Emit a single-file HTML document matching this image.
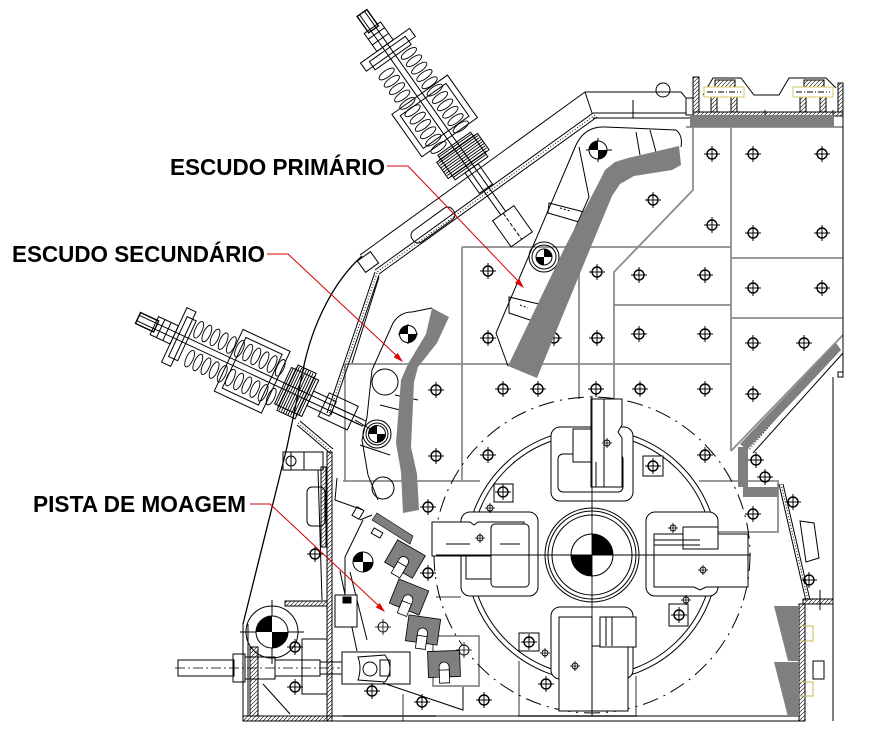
<!DOCTYPE html>
<html><head><meta charset="utf-8">
<style>html,body{margin:0;padding:0;background:#fff}svg{display:block}</style>
</head><body>
<svg xmlns="http://www.w3.org/2000/svg" width="872" height="747" viewBox="0 0 872 747">
<defs>
<pattern id="h" patternUnits="userSpaceOnUse" width="4" height="4"><path d="M0,4L4,0M-1,1L1,-1M3,5L5,3" stroke="#000" stroke-width="0.6"/></pattern>
<g id="b"><circle r="5" fill="none" stroke="#000" stroke-width="1.4"/><path d="M-8,0H8M0,-8V8" stroke="#000" stroke-width="1"/></g>
<g id="o"><circle r="5" fill="#fff" stroke="#000" stroke-width="0.9"/><path d="M-8,0H8M0,-8V8" stroke="#000" stroke-width="0.8"/></g>
<g id="s"><circle r="3" fill="none" stroke="#000" stroke-width="0.9"/><path d="M-5,0H5M0,-5V5" stroke="#000" stroke-width="0.8"/></g>
<g id="cg"><circle r="10" fill="#fff" stroke="#000" stroke-width="1" vector-effect="non-scaling-stroke"/><path d="M0,0L-10,0A10,10 0 0 1 0,-10Z M0,0L10,0A10,10 0 0 1 0,10Z" fill="#000"/></g>
<g id="cg2"><circle r="10" fill="#fff" stroke="#000" stroke-width="1" vector-effect="non-scaling-stroke"/><path d="M0,0L0,-10A10,10 0 0 1 10,0Z M0,0L0,10A10,10 0 0 1 -10,0Z" fill="#000"/></g>
<g id="coil" fill="none" stroke="#000" stroke-width="0.9">
<ellipse cx="60" cy="-15" rx="3.5" ry="9"/><ellipse cx="69" cy="-15" rx="3.5" ry="9"/><ellipse cx="78" cy="-15" rx="3.5" ry="9"/><ellipse cx="87" cy="-15" rx="3.5" ry="9"/><ellipse cx="96" cy="-15" rx="3.5" ry="9"/><ellipse cx="105" cy="-15" rx="3.5" ry="9"/><ellipse cx="114" cy="-15" rx="3.5" ry="9"/><ellipse cx="123" cy="-15" rx="3.5" ry="9"/><ellipse cx="132" cy="-15" rx="3.5" ry="9"/><ellipse cx="141" cy="-15" rx="3.5" ry="9"/><ellipse cx="150" cy="-15" rx="3.5" ry="9"/>
<ellipse cx="64" cy="15" rx="3.5" ry="9"/><ellipse cx="73" cy="15" rx="3.5" ry="9"/><ellipse cx="82" cy="15" rx="3.5" ry="9"/><ellipse cx="91" cy="15" rx="3.5" ry="9"/><ellipse cx="100" cy="15" rx="3.5" ry="9"/><ellipse cx="109" cy="15" rx="3.5" ry="9"/><ellipse cx="118" cy="15" rx="3.5" ry="9"/><ellipse cx="127" cy="15" rx="3.5" ry="9"/><ellipse cx="136" cy="15" rx="3.5" ry="9"/><ellipse cx="145" cy="15" rx="3.5" ry="9"/><ellipse cx="154" cy="15" rx="3.5" ry="9"/>
</g>
<g id="spr" fill="none" stroke="#000" stroke-width="1">
<path d="M0,-3H245M0,3H245"/>
<rect x="0" y="-6" width="20" height="12" stroke-width="1.4"/>
<rect x="18" y="-10" width="22" height="20"/><path d="M25,-10V10M32,-10V10"/>
<rect x="40" y="-30" width="10" height="60"/><rect x="44" y="-22" width="10" height="44"/>
<use href="#coil"/>
<rect x="100" y="-34" width="52" height="68"/><rect x="106" y="-28" width="40" height="56"/>
<rect x="160" y="-20" width="30" height="40"/><rect x="165" y="-25" width="20" height="50"/>
<path d="M162,-20V20M164.5,-22V22M167,-24V24M169.5,-24V24M172,-25V25M174.5,-25V25M177,-25V25M179.5,-24V24M182,-24V24M184.5,-22V22M187,-20V20" stroke-width="0.9"/>
<rect x="190" y="-8" width="25" height="16"/>
</g>
<g id="tooth"><path d="M-16,-13H16V13H5V3A5,5 0 0 0 -5,3V13H-16Z" fill="#7f7f7f" stroke="#000" stroke-width="0.8"/><rect x="-5" y="6" width="10" height="13" fill="#fff" stroke="#000" stroke-width="0.8"/></g>
</defs>

<!-- gray grid plates -->
<g fill="none" stroke="#8c8c8c" stroke-width="1.8">
<path d="M693,127V190L614,272V399"/>
<path d="M731,127V451"/>
<path d="M731,258H843M731,318H843M686,127H843"/>
<path d="M462,247H731M462,247V481M579,247V399M614,305H731M345,364H731M345,364V482M343,481H480"/>
<path d="M436,597H461"/>
<rect x="433" y="636" width="46" height="50"/>
<path d="M403,694V721M343,716H436M519,661V716H636V676"/>
<path d="M699,481H778V532H718"/>
<path d="M843,335L731,451"/>
</g>

<!-- rotor rings -->
<g fill="none" stroke="#000">
<circle cx="592" cy="555" r="158" stroke-width="1" stroke-dasharray="16 6 2 6"/>
<circle cx="592" cy="555" r="126" stroke-width="1"/>
<circle cx="592" cy="555" r="121" stroke-width="1"/>
</g>

<!-- bolts -->
<g>
<use href="#b" x="712" y="154"/><use href="#b" x="753" y="154"/><use href="#b" x="822" y="154"/>
<use href="#b" x="653" y="200"/><use href="#b" x="712" y="225"/><use href="#b" x="753" y="233"/><use href="#b" x="822" y="233"/>
<use href="#b" x="488" y="271"/><use href="#b" x="597" y="272"/><use href="#b" x="639" y="275"/><use href="#b" x="705" y="275"/><use href="#b" x="753" y="288"/><use href="#b" x="822" y="288"/>
<use href="#b" x="488" y="338"/><use href="#b" x="554" y="338"/><use href="#b" x="597" y="338"/><use href="#b" x="639" y="334"/><use href="#b" x="705" y="334"/><use href="#b" x="753" y="343"/><use href="#b" x="804" y="343"/>
<use href="#b" x="436" y="390"/><use href="#b" x="503" y="389"/><use href="#b" x="538" y="389"/><use href="#b" x="596" y="389"/><use href="#b" x="640" y="389"/><use href="#b" x="705" y="389"/><use href="#b" x="753" y="394"/>
<use href="#b" x="436" y="456"/><use href="#b" x="488" y="455"/><use href="#b" x="705" y="455"/><use href="#b" x="753" y="514"/>
<use href="#b" x="484" y="700"/><use href="#b" x="546" y="684"/><use href="#b" x="611" y="684"/>
<use href="#b" x="428" y="507"/><use href="#b" x="428" y="573"/><use href="#b" x="372" y="691"/><use href="#b" x="422" y="702"/>
<use href="#o" x="464" y="650"/><use href="#o" x="383" y="627"/><use href="#b" x="315" y="554"/>
</g>

<!-- hammers -->
<g fill="#fff" stroke="#000" stroke-width="1">
<rect x="551" y="427" width="82" height="74" rx="9"/>
<rect x="558" y="454" width="65" height="38" rx="5"/>
<path d="M591,399H622V425L618,432L622,438V487H591Z"/>
<rect x="573" y="429" width="18" height="33"/>
<path d="M604,399V487M596,462V487" fill="none"/>
<rect x="646" y="512" width="72" height="84" rx="9"/>
<path d="M654,534H748V587H706L700,590L694,587H654Z"/>
<rect x="683" y="527" width="35" height="22"/>
<path d="M654,545H700M654,540H700" fill="none"/>
<rect x="461" y="512" width="77" height="84" rx="9"/>
<path d="M432,522H470L474,525L478,522H524V556H432Z"/>
<path d="M466,556H499V579H466Z"/>
<rect x="491" y="524" width="38" height="63" rx="4"/>
<path d="M446,544H470M500,544H520" fill="none"/>
<rect x="551" y="607" width="82" height="72" rx="9"/>
<path d="M559,617H592V711H559Z"/>
<path d="M592,646H628V711H592Z"/>
<rect x="600" y="617" width="36" height="30"/>
<path d="M606,617V646M612,617V646" fill="none"/>
<rect x="494" y="484" width="19" height="18"/><rect x="643" y="456" width="20" height="20"/><rect x="669" y="604" width="19" height="22"/><rect x="519" y="633" width="20" height="18"/>
</g>
<g>
<use href="#b" x="503" y="492"/><use href="#b" x="653" y="466"/><use href="#b" x="679" y="615"/><use href="#b" x="529" y="642"/>
<use href="#s" x="607" y="443"/><use href="#s" x="480" y="538"/><use href="#s" x="673" y="528"/><use href="#s" x="703" y="570"/><use href="#s" x="575" y="666"/><use href="#s" x="490" y="508"/><use href="#s" x="686" y="600"/><use href="#s" x="545" y="653"/>
</g>
<!-- rotor center -->
<g fill="none" stroke="#000" stroke-width="1">
<circle cx="592" cy="555" r="47" fill="#fff"/><circle cx="592" cy="555" r="44"/><circle cx="592" cy="555" r="40"/>
<path d="M436,555H751M592,396V716" stroke-width="0.9"/>
</g>
<path d="M592,555V534A21,21 0 0 1 613,555Z M592,555V576A21,21 0 0 1 571,555Z" fill="#000"/>
<circle cx="592" cy="555" r="21" fill="none" stroke="#000"/>

<!-- top housing -->
<g fill="none" stroke="#000" stroke-width="1">
<path d="M585,92H681L686,98V115"/>
<path d="M585,92L360,255"/>
<path d="M585,92L592,113"/>
<path d="M593,113H686M593,118H690"/>
<path d="M593,113L375,270M597,117L379,274"/>
<path d="M595,115L377,272" stroke-dasharray="1 2"/>
<rect x="686" y="98" width="7" height="17"/>
<rect x="693" y="77" width="6" height="35" fill="url(#h)"/>
<rect x="838" y="83" width="5" height="29" fill="url(#h)"/>
<rect x="693" y="112" width="150" height="4" fill="url(#h)"/>
<path d="M703,95L713,78H741L754,95H779L789,78H826L836,88"/>
<rect x="715" y="80" width="20" height="7" fill="url(#h)"/>
<rect x="804" y="80" width="20" height="7" fill="url(#h)"/>
<rect x="711" y="97" width="6" height="15" fill="url(#h)"/><rect x="731" y="97" width="6" height="15" fill="url(#h)"/>
<rect x="800" y="97" width="6" height="15" fill="url(#h)"/><rect x="820" y="97" width="6" height="15" fill="url(#h)"/>
<rect x="704" y="87" width="40" height="10" stroke="#d8c860" fill="#fff"/>
<rect x="793" y="87" width="40" height="10" stroke="#d8c860" fill="#fff"/>
<path d="M707,92H741M796,92H830" stroke-dasharray="6 2 1 2"/>
<circle cx="663" cy="90" r="7"/>
<path d="M633,100V118M765,110V127M833,110V127"/>
<path d="M843,83V377M833,377V721"/>
<rect x="838" y="372" width="5" height="5"/>
<rect x="408" y="218" width="50" height="14" rx="6" transform="rotate(-36 433 225)"/>
<rect x="360" y="255" width="16" height="14" transform="rotate(-36 368 262)"/>
</g>

<!-- springs -->
<use href="#spr" transform="translate(362,13) rotate(54.8)"/>
<g fill="none" stroke="#000" transform="translate(362,13) rotate(54.8)"><rect x="245" y="-13" width="32" height="26"/><path d="M245,0H277" stroke-dasharray="4 2"/></g>
<use href="#spr" transform="translate(138,318) rotate(25)"/>
<g fill="none" stroke="#000" transform="translate(138,318) rotate(25)"><rect x="205" y="-13" width="32" height="26"/><path d="M215,-3H250M215,3H250"/></g>

<!-- outer casing left -->
<g fill="none" stroke="#000" stroke-width="1">
<path d="M362,256C333,282 312,325 303,370L287,447L243,624" stroke-width="1.3"/>
<path d="M375,272L327,413M379,275L331,415"/>
<path d="M377,273L329,414" stroke-dasharray="1 2"/>
<path d="M379,277L352,363"/>
<path d="M297,425L330,453M300,421L333,449"/>
<path d="M298,423L331,451" stroke-dasharray="1 2"/>
<rect x="327" y="452" width="5" height="269" fill="url(#h)"/>
<rect x="321" y="467" width="5" height="80" fill="url(#h)"/>
<rect x="283" y="452" width="40" height="18"/><circle cx="291" cy="461" r="5"/>
<path d="M291,452V470M304,452V470"/>
<rect x="307" y="487" width="18" height="39" rx="5"/>
<path d="M318,470L322,600"/>
<rect x="285" y="601" width="42" height="5" fill="url(#h)"/>
<path d="M243,624V721M248,624V716"/>
<path d="M243,721H800M243,716H800"/>
<rect x="243" y="716" width="89" height="5" fill="url(#h)"/>
<circle cx="272" cy="632" r="26"/>
<path d="M240,632H304M272,600V664"/>
<rect x="302" y="639" width="25" height="55"/>
<path d="M263,684L290,714"/>
<rect x="250" y="647" width="8" height="69" fill="url(#h)"/>
<rect x="178" y="660" width="56" height="16"/>
<rect x="233" y="654" width="12" height="28"/>
<rect x="245" y="657" width="30" height="22"/>
<rect x="275" y="660" width="45" height="16"/>
<rect x="320" y="662" width="22" height="12"/>
<path d="M175,668H340" stroke-dasharray="10 3 2 3" stroke-width="0.8"/>
<rect x="342" y="652" width="68" height="32"/>
<path d="M358,657Q362,668 358,680L385,682Q395,669 385,655Z" fill="#fff"/>
<circle cx="370" cy="669" r="7"/>
<rect x="380" y="660" width="10" height="16"/>
</g>
<use href="#cg" transform="translate(272,632) scale(1.6)"/>
<use href="#b" x="295" y="647"/><use href="#b" x="295" y="687"/>

<!-- primary shield holder -->
<g fill="none" stroke="#000" stroke-width="1">
<path d="M576,145Q585,126 605,127L676,130Q683,135 681,147"/>
<path d="M576,145L496,333L508,366"/>
<path d="M579,147L589,197L570,240"/>
<path d="M636,132L640,155M650,130L656,152"/>
<path d="M549,203L584,212L579,222L548,213Z"/>
<path d="M509,297L543,305L536,322L509,313Z"/>
<path d="M560,208L570,211M520,305L528,308" stroke-dasharray="2 2"/>
<circle cx="544" cy="257" r="15"/><circle cx="544" cy="257" r="12"/>
<path d="M586,150H612M598,138V162"/>
</g>
<use href="#cg" transform="translate(598,150) scale(0.9)"/>
<use href="#cg2" transform="translate(544,257) scale(0.8)"/>

<!-- secondary shield holder -->
<g fill="none" stroke="#000" stroke-width="1">
<path d="M393,323Q400,312 412,312L432,308"/>
<path d="M393,323L372,370L367,417L362,440L368,475L378,500"/>
<circle cx="385" cy="382" r="13"/>
<circle cx="377" cy="434" r="14"/><circle cx="377" cy="434" r="11"/>
<circle cx="383" cy="488" r="11"/>
<path d="M395,395L418,400M380,405L400,410M355,420L372,430M360,445L390,455"/>
<path d="M398,334H418M408,324V344"/>
</g>
<use href="#cg" transform="translate(408,334) scale(0.85)"/>
<use href="#cg" transform="translate(377,434) scale(0.85)"/>

<!-- pista holder -->
<g fill="none" stroke="#000" stroke-width="1">
<path d="M337,478L335,500L363,510"/>
<path d="M363,520L345,557V600"/>
<path d="M340,571L357,651M350,572L367,640"/>
<rect x="335" y="595" width="22" height="32" fill="#fff"/>
<rect x="343" y="597" width="8" height="6" fill="#000"/>
<path d="M383,683L463,710V687"/>
<path d="M360,520L372,515"/>
<rect x="354" y="508" width="8" height="10" transform="rotate(30 358 513)"/>
<rect x="372" y="530" width="10" height="6" transform="rotate(30 377 533)"/>
</g>
<circle cx="363" cy="562" r="10" fill="#ffffd0"/>
<use href="#cg" transform="translate(363,562) scale(1)"/>

<!-- right side details -->
<g fill="none" stroke="#000" stroke-width="1">
<path d="M779,484L806,601M783,484L810,600"/>
<path d="M781,484L808,600" stroke-dasharray="1 2"/>
<path d="M800,521L814,523L819,558L806,562Z"/>
<rect x="799" y="604" width="6" height="117" fill="url(#h)"/>
<rect x="803" y="599" width="30" height="5" fill="url(#h)"/>
<path d="M820,590V610"/>
<rect x="786" y="626" width="27" height="15" stroke="#c8b850"/>
<rect x="786" y="682" width="27" height="14" stroke="#c8b850"/>
<rect x="813" y="661" width="11" height="18"/>
<path d="M836,348L749,450" stroke-dasharray="1 2"/>
<path d="M843,353L753,453"/>
</g>
<use href="#b" x="793" y="502"/><use href="#b" x="809" y="580"/><use href="#b" x="756" y="460"/><use href="#b" x="765" y="477"/>

<!-- dark gray parts -->
<g fill="#7f7f7f">
<rect x="690" y="115" width="144" height="12"/>
<path d="M628,158L679,146L681,165L672,170L634,176L620,184L612,196L590,249L537,378L508,366L566,245L598,184L605,170L615,162Z"/>
<path d="M432,308L449,317L437,343L418,367L414,382L411,447L417,474L419,510L403,513L401,472L396,443L401,380L408,364L426,334Z"/>
<path d="M836,343L841,350L747,450L740,444Z"/>
<rect x="738" y="447" width="10" height="40"/>
<rect x="743" y="487" width="35" height="10"/>
<path d="M774,606H799V661H788Z"/>
<path d="M774,662H799V717H788Z"/>
<path d="M377,513L413,536L410,544L372,520Z" stroke="#000" stroke-width="0.6"/>
</g>
<use href="#tooth" transform="translate(405,559) rotate(30)"/>
<use href="#tooth" transform="translate(409,597) rotate(22)"/>
<use href="#tooth" transform="translate(423,630) rotate(8)"/>
<use href="#tooth" transform="translate(444,664) rotate(-2)"/>

<!-- labels -->
<g font-family="'Liberation Sans', Arial, sans-serif" font-weight="bold" font-size="23" fill="#000">
<text x="170" y="175" textLength="215" lengthAdjust="spacingAndGlyphs">ESCUDO PRIMÁRIO</text>
<text x="12" y="262" textLength="253" lengthAdjust="spacingAndGlyphs">ESCUDO SECUNDÁRIO</text>
<text x="33" y="512" textLength="213" lengthAdjust="spacingAndGlyphs">PISTA DE MOAGEM</text>
</g>

<!-- leader lines -->
<g fill="none" stroke="#d40000" stroke-width="1">
<path d="M387,166H408L519,282"/>
<path d="M267,254H288L398,357"/>
<path d="M250,504H270L380,607"/>
</g>
<g fill="#e00000">
<path d="M0,0L-10,-3L-10,3Z" transform="translate(524,288) rotate(46.4)"/>
<path d="M0,0L-10,-3L-10,3Z" transform="translate(403,362) rotate(43.2)"/>
<path d="M0,0L-10,-3L-10,3Z" transform="translate(385,612) rotate(43.2)"/>
</g>
</svg>
</body></html>
